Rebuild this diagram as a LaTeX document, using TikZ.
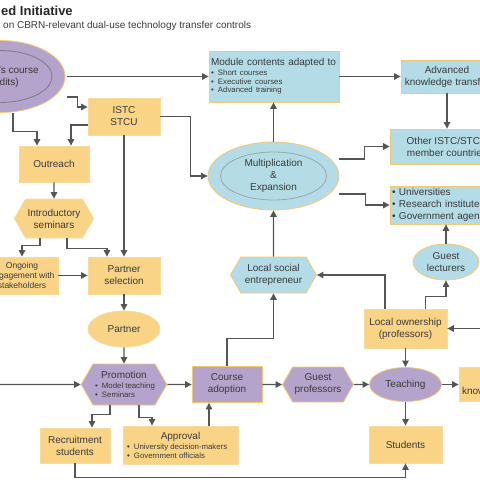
\documentclass[tikz,border=0pt]{standalone}
\usepackage{fontspec}
\setmainfont{Liberation Sans}
\usetikzlibrary{arrows.meta,shapes.geometric,shapes.symbols}

\definecolor{orfill}{HTML}{F9D486}
\definecolor{oredge}{HTML}{F7DB9E}
\definecolor{blfill}{HTML}{B3DCE6}
\definecolor{pufill}{HTML}{B4A3CA}
\definecolor{rim}{HTML}{F3CA74}
\definecolor{wire}{HTML}{555555}
\definecolor{ink}{HTML}{3A3A3A}

\newcommand{\blt}{\makebox[7pt][l]{\textbullet}}
\newcommand{\bulfont}{\fontsize{7.8}{9}\selectfont}

\tikzset{
  base/.style={font=\fontsize{10}{12}\selectfont, text=ink, inner sep=2pt, line width=0.8pt, align=center},
  obox/.style={base, rectangle, fill=orfill, draw=oredge},
  bbox/.style={base, rectangle, fill=blfill, draw=rim},
  pbox/.style={base, rectangle, fill=pufill, draw=rim},
  hexa/.style={signal, signal to=west and east, signal pointer angle=120},
  oval/.style={ellipse, inner sep=0pt},
  conn/.style={draw=wire, line width=1.1pt, -{Triangle[length=6.5pt,width=6.5pt]}},
}

\begin{document}
\begin{tikzpicture}[x=1pt,y=-1pt]
  \useasboundingbox (0,0) rectangle (480,480);
  \clip (0,0) rectangle (480,480);

  \node[anchor=base west, inner sep=0pt, text=black!85, font=\bfseries\fontsize{13}{15}\selectfont] (title) at (1,15) {ed Initiative};
  \node[anchor=base west, inner sep=0pt, text=ink, font=\fontsize{10}{12}\selectfont] (subtitle) at (3,28) {on CBRN-relevant dual-use technology transfer controls};

  % top row
  \node[pbox, oval, minimum width=130pt, minimum height=72pt] (mcourse) at (0,76.5) {};
  \draw[draw=pufill!40!black!70, line width=0.8pt] (mcourse.center) ellipse (52pt and 26pt);
  \node[base, anchor=east, align=right] (mcoursetxt) at (41,77) {'s course\\edits)\hspace*{20pt}};
  \node[bbox, minimum width=130pt, minimum height=51pt, text width=126pt, align=left] (modules) at (274,76.5)
    {Module contents adapted to\\[-2pt]{\bulfont\blt Short courses}\\[-3.5pt]{\bulfont\blt Executive courses}\\[-3.5pt]{\bulfont\blt Advanced training}};
  \node[bbox, minimum width=92pt, minimum height=33pt] (advanced) at (447,76.5) {Advanced\\knowledge transf\hphantom{er}};
  \node[bbox, minimum width=114pt, minimum height=35pt] (other) at (447,146.5) {Other ISTC/STC\hphantom{U}\\member countrie\hphantom{s}};
  \node[bbox, minimum width=114pt, minimum height=38pt, text width=110pt, align=left] (univ) at (447,205)
    {\blt Universities\\\blt Research institute\\\blt Government agen};

  % middle
  \node[bbox, oval, minimum width=131pt, minimum height=68pt] (mult) at (273.5,176) {Multiplication\\\&\\Expansion};
  \draw[draw=blfill!50!black!60, line width=0.8pt] (mult.center) ellipse (53pt and 24pt);
  \node[obox, minimum width=72pt, minimum height=37pt] (istc) at (124,116.5) {ISTC\\STCU};
  \node[obox, minimum width=70pt, minimum height=36pt] (outreach) at (54,164) {Outreach};
  \node[obox, hexa, minimum width=77pt, minimum height=39pt] (intro) at (54,218.5) {Introductory\\seminars};
  \node[obox, minimum width=72pt, minimum height=37pt, font=\fontsize{8.5}{10}\selectfont] (ongoing) at (22,275.5)
    {Ongoing\\\hphantom{en}gagement with\\stakeholders};
  \node[obox, minimum width=72pt, minimum height=37pt] (psel) at (124,275.5) {Partner\\selection};
  \node[obox, oval, minimum width=72pt, minimum height=36pt] (partner) at (124,329) {Partner};
  \node[bbox, hexa, minimum width=86pt, minimum height=36pt] (lse) at (273.5,275) {Local social\\entrepreneur};
  \node[bbox, oval, minimum width=66pt, minimum height=36pt] (glect) at (446,262) {Guest\\lecturers};
  \node[obox, minimum width=83pt, minimum height=39pt] (localown) at (405.5,328.5) {Local ownership\\(professors)};

  % bottom row
  \node[pbox, hexa, minimum width=82pt, minimum height=41pt] (promo) at (124,384.5)
    {Promotion\\[-2.5pt]{\bulfont\makebox[58pt][l]{\blt Model teaching}}\\[-3pt]{\bulfont\makebox[58pt][l]{\blt Seminars}}};
  \node[pbox, minimum width=70pt, minimum height=36pt] (adopt) at (227,384.5) {Course\\adoption};
  \node[pbox, hexa, minimum width=68pt, minimum height=35pt] (gprof) at (318,384.5) {Guest\\professors};
  \node[pbox, oval, minimum width=72pt, minimum height=34pt] (teach) at (405.5,384.5) {Teaching};
  \node[obox, minimum width=70pt, minimum height=34pt, text width=64pt, align=left] (know) at (494,384.5) {\strut\\know};
  \node[obox, minimum width=70pt, minimum height=35pt] (recruit) at (75,445.5) {Recruitment\\students};
  \node[obox, minimum width=115pt, minimum height=38pt] (approval) at (180.5,445)
    {Approval\\[-2pt]{\bulfont\makebox[107pt][l]{\blt University decision-makers}}\\[-3pt]{\bulfont\makebox[107pt][l]{\blt Government officials}}};
  \node[obox, minimum width=73pt, minimum height=37pt] (students) at (405.5,444.5) {Students};

  \coordinate (leftin) at (0,384.5);
  \coordinate (rightin) at (480,328.5);

  \draw[conn] ([xshift=2pt]mcourse.east) -- (modules.west);
  \draw[conn] (modules) -- (advanced);
  \draw[conn] (advanced) -- (other);
  \draw[conn] (mult.north) -- (mult.north |- modules.south);
  \draw[conn] ([yshift=17pt]mult.east) -- ++(25,0) |- (other.west);
  \draw[conn] ([yshift=-18pt]mult.east) -- ++(26,0) |- (univ.west);
  \draw[conn] (istc.east) -- ++(30,0) |- (mult.west);
  \draw[conn] ([xshift=2pt,yshift=-20.5pt]mcourse.east) -- ++(10,0) |- ([yshift=9.5pt]istc.west);
  \draw[conn] ([xshift=13pt]mcourse.south) -- ++(0,19) -| ([xshift=-17pt]outreach.north);
  \draw[conn] ([yshift=-8.5pt]istc.west) -| ([xshift=17pt]outreach.north);
  \draw[conn] (istc) -- (psel);
  \draw[conn] (outreach) -- (intro);
  \draw[conn] ([xshift=-14pt]intro.south) -- ++(0,7) -| (ongoing.north);
  \draw[conn] ([xshift=13pt]intro.south) -- ++(0,10) -| ([xshift=-17pt]psel.north);
  \draw[conn] (ongoing) -- (psel);
  \draw[conn] (psel) -- (partner);
  \draw[conn] (partner) -- (promo);
  \draw[conn] (leftin) -- (promo);
  \draw[conn] (promo) -- (adopt);
  \draw[conn] ([xshift=-14pt]promo.south) -- ++(0,9.5) -| ([xshift=17pt]recruit.north);
  \draw[conn] ([xshift=15pt]promo.south) -- ++(0,12) -| ([xshift=-28.5pt]approval.north);
  \draw[conn] ([xshift=28.5pt]approval.north) -- ([xshift=-18pt]adopt.south);
  \draw[conn] (adopt.north) -- ++(0,-28) -| (lse.south);
  \draw[conn] (lse) -- (mult);
  \draw[conn] ([xshift=-20.5pt]localown.north) |- (lse.east);
  \draw[conn] ([xshift=20pt]localown.north) -- ++(0,-12) -| (glect.south);
  \draw[conn] (glect.north) -- (glect.north |- univ.south);
  \draw[conn] (rightin) -- (localown.east);
  \draw[conn] (localown) -- (teach);
  \draw[conn] (adopt) -- (gprof);
  \draw[conn] (gprof) -- (teach);
  \draw[conn] (teach) -- (know);
  \draw[conn] (teach) -- (students);
  \draw[conn] (recruit.south) -- ++(0,14) -| (students.south);
\end{tikzpicture}
\end{document}
